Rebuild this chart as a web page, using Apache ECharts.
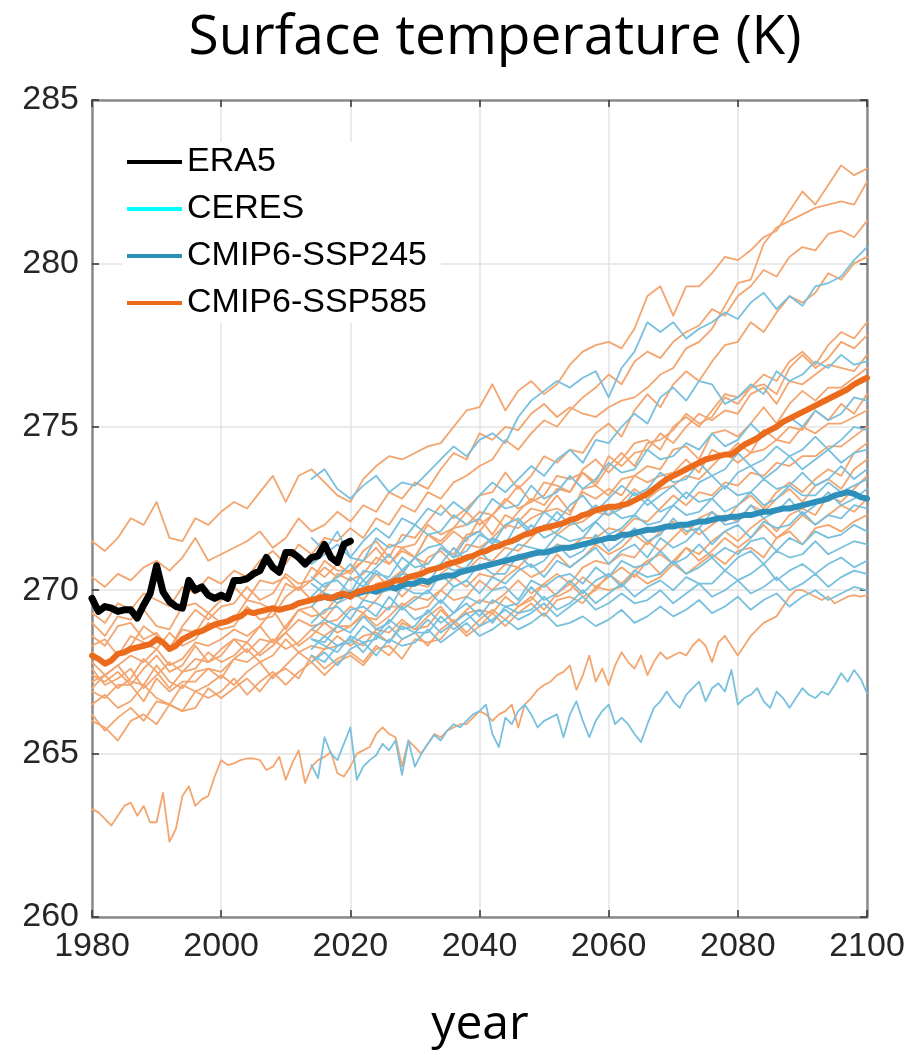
<!DOCTYPE html>
<html>
<head>
<meta charset="utf-8">
<title>Surface temperature (K)</title>
<script src="https://cdn.jsdelivr.net/npm/echarts@6/dist/echarts.min.js"></script>
<style>
  html, body { margin: 0; padding: 0; background: #fff; }
  #chart { width: 910px; height: 1055px; }
</style>
</head>
<body>
<div id="chart"></div>
<script>
// ---- axis ticks ----
const xTicks = [1980, 2000, 2020, 2040, 2060, 2080, 2100];
const yTicks = [260, 265, 270, 275, 280, 285];

// ---- reanalysis (annual, 1980-2020) ----
const era5 = [
  269.75,269.35,269.5,269.45,269.35,269.4,269.4,269.15,269.55,269.9,
  270.75,269.95,269.65,269.5,269.45,270.3,270.0,270.1,269.85,269.75,
  269.85,269.75,270.3,270.3,270.35,270.5,270.6,271.0,270.7,270.55,
  271.15,271.15,271.0,270.8,271.0,271.05,271.4,271.0,270.85,271.4,
  271.5
];
const ceres = [];

// ---- multi-model means ----
// SSP585 mean, annual 1980-2100
const ssp585Mean = [
  268.0,267.9,267.75,267.85,268.05,268.1,268.2,268.25,268.3,268.35,
  268.5,268.4,268.2,268.3,268.5,268.6,268.7,268.75,268.85,268.95,
  269.0,269.05,269.15,269.2,269.35,269.3,269.35,269.4,269.45,269.4,
  269.45,269.5,269.6,269.65,269.7,269.75,269.8,269.75,269.85,269.9,
  269.8,269.95,270.0,270.05,270.1,270.15,270.2,270.3,270.3,270.4,
  270.45,270.5,270.6,270.65,270.7,270.8,270.85,270.9,271.0,271.05,
  271.15,271.2,271.3,271.35,271.45,271.5,271.6,271.7,271.75,271.85,
  271.9,271.95,272.0,272.05,272.15,272.2,272.3,272.35,272.45,272.5,
  272.55,272.55,272.6,272.65,272.75,272.85,272.95,273.1,273.25,273.4,
  273.5,273.6,273.7,273.8,273.9,274.0,274.05,274.1,274.15,274.15,
  274.3,274.45,274.55,274.65,274.8,274.9,275.0,275.15,275.25,275.35,
  275.45,275.55,275.65,275.75,275.85,275.95,276.05,276.15,276.3,276.4,
  276.5
];
// SSP245 mean, annual 2015-2100
const ssp245Mean = [
  269.75,269.8,269.75,269.8,269.85,269.85,269.9,269.95,270.0,269.95,
  270.05,270.1,270.05,270.15,270.2,270.2,270.3,270.25,270.35,270.4,
  270.45,270.45,270.55,270.6,270.65,270.7,270.75,270.8,270.85,270.9,
  270.95,271.0,271.05,271.1,271.15,271.15,271.2,271.25,271.3,271.3,
  271.35,271.4,271.45,271.5,271.55,271.6,271.6,271.7,271.7,271.75,
  271.8,271.85,271.85,271.9,271.95,271.95,272.0,272.0,272.05,272.1,
  272.1,272.15,272.2,272.2,272.25,272.25,272.3,272.3,272.35,272.4,
  272.4,272.45,272.5,272.5,272.55,272.6,272.65,272.7,272.75,272.8,
  272.9,272.95,273.0,272.95,272.85,272.8
];

// ---- SSP585 ensemble members (every 2 years, 1980-2100) ----
const ssp585_m01 = [
  271.5,271.2,271.6,272.2,272.0,272.7,271.6,271.5,272.2,272.0,
  272.4,272.7,272.5,273.0,273.5,272.7,273.5,273.7,273.3,272.9,
  272.7,273.4,273.8,274.1,274.0,274.2,274.4,274.5,275.0,275.5,
  275.6,276.3,275.5,276.1,276.4,276.0,276.3,276.9,277.3,277.5,
  277.6,277.4,278.0,279.0,279.3,278.4,279.3,279.3,279.7,280.2,
  280.1,280.4,280.8,281.0,281.6,282.2,281.8,282.4,283.0,282.7,
  282.9
];
const ssp585_m02 = [
  270.4,270.1,270.5,270.3,270.7,270.9,270.6,271.0,271.6,270.9,
  271.1,271.3,271.5,271.8,271.3,271.6,272.2,271.8,272.0,272.4,
  272.1,272.6,272.4,273.0,272.8,273.3,273.1,273.7,274.2,274.0,
  274.8,274.6,275.0,274.9,275.4,275.7,275.3,275.6,275.4,275.3,
  275.6,275.8,275.9,276.2,276.6,276.8,277.4,277.6,278.0,278.7,
  279.4,279.5,280.6,281.1,281.3,281.5,281.7,281.8,281.9,281.8,
  282.5
];
const ssp585_m03 = [
  269.3,269.0,269.6,269.4,269.9,269.7,269.5,270.1,269.9,270.4,
  270.2,270.6,270.4,270.9,271.2,270.8,271.4,271.1,271.6,271.5,
  271.9,271.6,272.2,272.0,272.6,272.4,273.0,272.8,273.3,273.5,
  273.8,274.0,274.6,274.3,274.8,275.2,275.0,275.5,275.9,276.2,
  276.6,276.3,277.0,277.3,277.1,277.6,277.9,278.1,278.6,278.4,
  279.0,279.3,279.8,279.6,280.2,280.5,280.4,280.9,281.0,280.8,
  281.3
];
const ssp585_m04 = [
  268.6,268.3,268.9,269.0,268.5,268.7,268.2,268.9,269.4,269.1,
  269.5,269.6,270.1,269.7,269.9,270.5,270.2,270.3,270.9,270.6,
  270.6,271.2,271.5,271.0,271.7,271.6,272.1,272.6,272.2,272.5,
  272.9,273.0,273.6,273.1,273.5,274.1,273.9,274.3,274.2,274.8,
  275.1,274.7,275.5,276.0,275.6,276.3,276.7,276.4,277.0,277.5,
  277.6,278.2,277.9,278.5,279.0,278.8,279.1,279.7,279.5,280.0,
  280.2
];
const ssp585_m05 = [
  268.1,267.8,268.0,268.6,268.4,268.2,268.7,268.3,268.5,269.0,
  268.8,268.9,269.5,269.1,269.2,269.8,270.1,269.7,270.0,270.5,
  270.3,270.5,271.0,270.8,271.2,271.0,271.7,271.5,271.9,272.4,
  272.0,272.3,272.8,272.5,272.7,273.3,273.2,273.0,273.7,274.0,
  273.6,274.0,274.5,274.6,274.3,275.0,275.3,275.0,275.5,276.0,
  275.9,276.2,276.6,276.4,277.0,277.3,276.9,277.5,277.9,277.7,
  278.2
];
const ssp585_m06 = [
  267.4,267.2,267.5,267.1,267.6,268.0,267.5,267.7,268.3,267.8,
  268.2,268.5,268.4,268.9,268.4,268.9,269.4,269.2,269.3,269.8,
  269.9,270.0,270.5,270.1,270.6,271.0,270.8,271.3,271.1,271.7,
  271.8,272.3,271.9,272.4,272.8,272.6,273.1,273.0,273.6,273.2,
  273.8,274.2,273.8,274.5,274.6,274.9,275.4,275.1,275.3,275.9,
  275.7,276.2,276.3,276.0,276.8,277.2,276.8,277.1,277.6,277.4,
  277.8
];
const ssp585_m07 = [
  268.3,268.5,268.0,268.3,268.9,268.6,268.2,268.8,268.7,269.3,
  269.0,269.1,269.7,269.6,269.4,270.2,270.0,270.3,270.7,270.4,
  270.6,270.9,270.8,271.4,271.3,271.4,272.0,271.7,271.9,272.0,
  272.4,272.3,272.7,273.2,272.7,272.9,273.5,273.4,273.6,273.3,
  274.1,273.8,274.2,274.3,274.8,274.5,275.0,275.4,275.2,275.5,
  275.4,276.0,276.2,275.7,276.4,276.3,276.6,276.9,276.8,276.7,
  277.2
];
const ssp585_m08 = [
  267.8,267.4,267.7,268.0,267.8,268.2,267.7,267.9,268.4,268.3,
  268.5,268.8,268.6,268.9,269.4,268.8,269.4,269.5,269.1,269.6,
  270.0,269.7,270.2,270.3,270.6,270.3,271.0,271.2,270.8,271.4,
  271.3,271.6,272.0,271.9,272.2,272.4,272.5,272.3,273.1,273.2,
  272.9,273.4,273.5,273.8,273.7,274.3,274.4,274.0,274.8,274.9,
  274.7,275.1,275.6,275.1,275.7,276.1,275.8,276.2,276.2,276.5,
  276.8
];
const ssp585_m09 = [
  269.0,268.6,269.2,269.1,269.4,268.9,268.8,269.5,269.6,269.3,
  269.7,270.1,269.7,270.3,270.2,270.4,270.0,270.7,270.4,270.8,
  270.5,270.9,271.3,270.8,271.3,271.0,271.7,271.4,271.8,271.5,
  272.2,271.7,272.3,272.1,272.5,272.4,272.9,272.4,273.0,272.8,
  273.1,272.9,273.5,273.3,273.5,273.6,274.0,273.6,274.3,274.1,
  274.5,274.2,274.9,274.6,275.0,274.9,275.5,275.2,275.7,275.4,
  276.0
];
const ssp585_m10 = [
  267.2,267.4,267.0,267.3,267.9,267.5,267.0,267.5,267.9,267.8,
  268.0,268.5,268.1,268.5,268.4,268.7,269.1,268.9,269.0,269.1,
  269.5,269.3,269.7,270.2,269.8,270.2,270.1,270.5,270.8,270.6,
  271.0,270.9,271.3,271.2,271.6,272.0,271.7,272.0,272.1,272.4,
  272.3,272.7,273.1,272.8,273.1,273.2,273.5,273.4,273.8,274.2,
  273.9,274.2,274.3,274.6,274.5,275.0,274.8,275.1,275.1,275.3,
  275.5
];
const ssp585_m11 = [
  266.9,266.7,267.1,267.1,266.6,267.3,266.9,267.2,267.2,267.6,
  267.5,267.9,267.8,268.1,268.5,268.2,268.4,268.8,268.6,268.9,
  268.9,269.2,269.1,269.5,269.5,269.8,269.7,270.0,270.4,270.1,
  270.5,270.4,270.8,270.7,271.1,271.1,271.4,271.3,271.6,271.6,
  271.9,271.8,272.2,272.1,272.5,272.9,272.6,273.0,272.9,273.3,
  273.2,273.6,273.5,273.9,273.8,274.1,274.1,274.4,274.4,274.7,
  275.0
];
const ssp585_m12 = [
  267.6,267.1,267.3,267.6,267.0,267.4,267.8,267.5,267.6,268.1,
  267.8,268.0,268.4,268.0,268.3,268.7,268.3,268.6,269.0,268.7,
  268.9,269.3,268.9,269.2,269.6,269.4,269.5,270.0,269.7,269.8,
  270.3,270.0,270.4,270.7,270.4,270.6,271.1,270.7,271.0,271.4,
  271.1,271.3,271.7,271.4,271.8,272.1,271.7,272.2,272.4,272.1,
  272.6,272.9,272.5,273.0,273.3,273.0,273.4,273.7,273.5,274.2,
  274.5
];
const ssp585_m13 = [
  266.5,266.8,266.4,266.6,267.1,266.7,266.5,267.1,266.9,267.1,
  267.4,267.1,267.5,267.8,267.3,267.7,268.1,267.8,268.2,268.3,
  268.5,268.3,268.8,268.7,269.1,268.8,269.2,269.5,269.0,269.4,
  269.7,269.6,269.9,270.3,269.9,270.2,270.5,270.2,270.7,270.9,
  270.8,271.1,271.0,271.5,271.2,271.6,272.0,271.7,272.0,272.3,
  272.1,272.6,272.4,272.8,273.1,272.7,273.2,273.4,273.1,273.7,
  274.0
];
const ssp585_m14 = [
  267.0,267.4,267.7,267.2,267.1,267.7,267.2,267.0,267.5,267.6,
  267.3,267.9,268.2,267.8,268.0,268.5,268.1,268.3,268.2,268.6,
  268.3,268.6,268.7,268.4,269.0,268.8,268.9,269.4,269.0,269.3,
  269.4,269.3,269.8,269.5,269.7,270.2,269.8,270.0,270.4,270.1,
  270.4,270.7,270.4,270.9,271.1,270.8,271.3,271.1,271.5,271.8,
  271.5,271.9,272.2,271.8,272.3,272.5,272.3,272.9,272.7,273.1,
  273.5
];
const ssp585_m15 = [
  266.2,265.7,266.1,266.4,266.0,266.6,266.5,266.3,266.9,266.7,
  266.9,267.3,266.8,267.2,267.5,267.1,267.5,267.8,267.4,267.8,
  268.0,267.7,268.2,268.3,267.9,268.5,268.4,268.5,269.0,268.6,
  268.9,269.3,268.9,269.3,269.6,269.2,269.7,269.8,269.6,270.1,
  270.0,270.1,270.5,270.2,270.4,270.8,270.5,270.8,271.1,270.8,
  271.2,271.3,271.0,271.6,271.8,271.4,271.9,272.0,271.8,272.1,
  272.3
];
const ssp585_m16 = [
  266.0,265.8,265.4,266.0,266.2,265.9,266.5,266.3,266.4,267.0,
  266.7,267.0,267.3,266.9,267.4,267.6,267.3,268.0,267.6,267.9,
  268.1,267.8,268.3,268.0,268.5,268.7,268.3,268.8,269.1,268.7,
  269.1,269.4,269.1,269.5,269.8,269.4,269.9,270.2,269.8,270.0,
  270.5,270.2,270.6,270.9,270.5,270.9,271.3,270.9,271.2,271.6,
  271.3,271.6,272.0,271.6,271.9,272.3,272.0,272.3,272.6,272.4,
  272.8
];
// coldest SSP585 member, annual 1980-2100
const ssp585_m17 = [
  263.3,263.2,263.0,262.8,263.1,263.4,263.5,263.1,263.4,262.9,
  262.9,263.8,262.3,262.7,263.7,264.0,263.4,263.6,263.7,264.3,
  264.8,264.65,264.7,264.8,264.85,264.85,264.8,264.5,264.6,264.9,
  264.2,264.7,265.1,264.1,264.6,264.8,264.9,265.05,264.4,264.3,
  264.6,265.0,265.1,265.2,265.6,265.8,265.6,265.5,264.6,265.4,
  265.2,265.0,265.3,265.6,265.5,265.7,265.8,265.9,265.9,266.1,
  266.3,266.2,266.0,266.2,266.3,266.5,265.8,266.5,266.7,266.95,
  267.1,267.2,267.4,267.5,267.7,266.95,267.4,268.0,267.2,267.6,
  267.1,267.7,268.1,267.8,267.6,268.0,267.4,267.8,268.1,267.9,
  268.0,268.1,268.0,268.3,268.5,268.3,267.8,268.4,268.6,268.3,
  268.0,268.3,268.6,268.8,269.0,269.1,269.2,269.5,269.8,270.0,
  270.0,269.9,269.8,269.7,269.8,269.6,269.7,269.8,269.85,269.8,
  269.85
];

// ---- SSP245 ensemble members (every 2 years, 2014-2100) ----
const ssp245_m01 = [
  273.4,273.7,273.1,272.8,273.2,273.5,273.0,273.3,273.2,273.6,
  274.0,274.4,274.1,274.6,274.8,274.5,275.3,275.8,276.1,276.4,
  276.2,276.5,276.7,275.9,276.8,277.3,278.2,277.9,278.2,277.7,
  278.0,278.2,278.5,278.3,278.8,279.1,278.6,279.0,278.7,279.3,
  279.4,279.6,280.1,280.5
];
const ssp245_m02 = [
  271.6,271.2,271.8,271.0,271.5,271.9,271.6,272.2,272.0,272.5,
  272.3,272.7,272.4,272.9,273.3,273.0,273.4,273.8,273.5,274.0,
  274.3,273.9,274.6,274.5,275.0,275.4,275.1,275.9,276.2,275.8,
  276.4,276.3,275.7,275.9,276.3,276.0,276.7,276.4,276.6,277.0,
  276.8,277.2,276.9,277.0
];
const ssp245_m03 = [
  270.8,271.1,271.4,271.0,270.9,271.6,271.3,271.5,272.0,271.7,
  271.8,272.3,272.0,272.2,272.8,272.5,272.6,273.2,272.8,273.0,
  273.5,273.1,273.4,273.9,273.6,273.7,274.3,274.0,274.1,274.5,
  274.3,274.8,274.4,274.6,275.1,274.7,275.0,275.3,275.0,275.5,
  275.2,275.4,275.9,275.8
];
const ssp245_m04 = [
  270.4,270.1,270.4,270.8,270.3,270.7,271.1,270.6,271.0,271.3,
  271.4,271.0,271.6,271.8,271.4,272.0,272.2,271.8,272.4,272.1,
  272.6,272.9,272.4,272.8,273.2,272.9,273.1,273.6,273.3,273.4,
  273.9,273.5,273.7,274.2,273.8,274.0,274.4,274.1,274.3,274.7,
  274.3,274.6,275.0,274.9
];
const ssp245_m05 = [
  269.8,270.2,270.3,269.9,270.6,270.5,270.4,271.0,270.7,270.8,
  271.3,271.0,271.2,271.7,271.5,271.4,272.1,271.7,271.9,272.4,
  272.0,272.3,272.6,272.3,272.5,273.0,272.6,272.9,273.2,272.8,
  273.3,273.5,273.1,273.6,273.8,273.4,273.7,274.1,273.7,274.0,
  274.3,273.9,274.2,274.3
];
const ssp245_m06 = [
  270.2,269.9,269.8,270.4,270.1,270.6,270.3,270.5,271.0,270.6,
  270.8,271.3,270.9,271.2,271.6,271.4,271.5,272.0,271.6,271.8,
  272.2,271.8,272.1,272.5,272.2,272.3,272.8,272.4,272.6,273.0,
  272.7,272.8,273.2,272.9,273.0,273.4,273.1,273.2,273.6,273.2,
  273.4,273.8,273.4,273.7
];
const ssp245_m07 = [
  269.5,269.9,269.6,269.8,270.3,269.9,270.0,270.5,270.4,270.2,
  270.8,270.6,270.7,271.2,270.8,271.0,271.4,271.3,271.2,271.7,
  271.5,271.6,272.1,271.7,271.9,272.3,272.0,272.1,272.6,272.3,
  272.4,272.8,272.4,272.6,273.0,272.6,272.8,273.2,272.9,272.9,
  273.3,273.0,273.2,273.4
];
const ssp245_m08 = [
  269.0,269.4,269.5,269.1,269.7,269.6,269.4,270.1,269.9,269.9,
  270.5,270.1,270.3,270.8,270.5,270.5,271.1,270.7,270.9,271.4,
  271.0,271.2,271.7,271.2,271.5,271.9,271.5,271.7,272.2,271.8,
  271.9,272.4,272.0,272.1,272.6,272.2,272.4,272.8,272.3,272.6,
  273.0,272.6,272.8,273.1
];
const ssp245_m09 = [
  268.8,269.1,268.9,269.4,269.5,269.2,269.8,269.4,269.7,270.0,
  269.6,270.1,270.3,269.9,270.4,270.2,270.6,270.8,270.4,270.9,
  270.7,271.0,271.3,270.8,271.2,271.4,271.0,271.6,271.3,271.5,
  271.9,271.4,271.8,272.0,271.6,272.1,271.9,272.0,272.4,272.0,
  272.3,272.2,272.6,272.5
];
const ssp245_m10 = [
  268.5,268.4,268.9,268.7,269.2,268.8,269.0,269.5,269.1,269.3,
  269.7,269.3,269.8,269.6,270.0,270.1,269.7,270.3,270.1,270.4,
  270.5,270.2,270.7,270.4,270.9,270.7,270.8,271.2,270.8,271.0,
  271.4,271.0,271.3,271.1,271.5,271.6,271.2,271.6,271.4,271.8,
  271.6,271.7,272.0,271.8
];
const ssp245_m11 = [
  268.2,268.6,268.3,268.4,268.9,268.6,269.1,268.8,268.9,269.4,
  269.0,269.3,269.6,269.2,269.7,269.5,269.6,270.1,269.7,269.9,
  270.3,269.9,270.3,270.5,270.1,270.6,270.4,270.5,270.9,270.5,
  270.7,271.0,270.6,271.0,271.2,270.8,271.2,271.0,271.1,271.5,
  271.1,271.3,271.5,271.4
];
const ssp245_m12 = [
  268.0,267.8,268.3,268.5,268.1,268.6,268.4,268.9,268.7,268.7,
  269.2,268.8,269.1,269.4,269.0,269.5,269.3,269.4,269.8,269.4,
  269.6,270.0,269.6,269.9,270.2,269.8,270.1,270.3,270.0,270.4,
  270.2,270.2,270.6,270.3,270.5,270.8,270.3,270.6,270.8,270.5,
  270.8,271.0,270.7,270.9
];
const ssp245_m13 = [
  268.5,268.3,268.1,268.6,268.4,268.5,268.9,268.5,268.7,269.1,
  268.7,269.0,269.3,268.9,269.1,269.4,269.1,269.3,269.6,269.2,
  269.5,269.8,269.4,269.6,269.9,269.6,269.7,270.0,269.6,269.9,
  270.2,269.8,270.0,270.3,269.9,270.1,270.4,270.0,270.2,270.5,
  270.1,270.4,270.6,270.5
];
const ssp245_m14 = [
  267.8,268.1,267.7,268.2,268.4,268.0,268.5,268.3,268.4,268.8,
  268.4,268.7,269.0,268.6,268.8,269.1,268.8,269.0,269.3,268.9,
  269.0,269.2,268.9,269.1,269.4,269.0,269.2,269.5,269.2,269.4,
  269.7,269.3,269.5,269.8,269.4,269.7,269.9,269.5,269.8,270.0,
  269.7,269.9,270.1,270.0
];
// coldest SSP245 member, annual 2014-2100
const ssp245_m15 = [
  264.65,264.25,265.5,265.0,264.8,265.3,265.8,264.2,264.6,264.8,
  264.95,265.3,265.1,265.4,264.35,265.4,264.6,265.0,265.3,265.57,
  265.4,265.7,265.9,265.8,266.0,266.2,266.3,266.5,265.6,265.2,
  266.1,265.9,266.3,266.5,266.2,265.8,266.0,266.1,266.2,265.5,
  266.2,266.6,266.0,265.5,266.0,266.3,266.5,265.9,266.1,265.9,
  265.6,265.35,265.9,266.4,266.6,266.9,266.6,266.4,266.8,267.0,
  267.2,266.6,267.0,267.15,266.9,267.56,266.5,266.7,266.8,267.0,
  266.6,266.4,266.9,266.7,266.4,266.7,267.0,266.8,266.7,266.9,
  266.8,267.1,267.46,267.2,267.56,267.3,266.85
];

// ---- colours ----
const C_ERA5 = '#000000';
const C_CERES = '#00FFFF';
const C_245 = '#2E8FBA';
const C_585 = '#EC6A1C';
const C_245_THIN = '#78C0DE';
const C_585_THIN = '#F3A56F';

// [start year, step, values]
const ssp585Members = [
  [1980, 2, ssp585_m01], [1980, 2, ssp585_m02], [1980, 2, ssp585_m03],
  [1980, 2, ssp585_m04], [1980, 2, ssp585_m05], [1980, 2, ssp585_m06],
  [1980, 2, ssp585_m07], [1980, 2, ssp585_m08], [1980, 2, ssp585_m09],
  [1980, 2, ssp585_m10], [1980, 2, ssp585_m11], [1980, 2, ssp585_m12],
  [1980, 2, ssp585_m13], [1980, 2, ssp585_m14], [1980, 2, ssp585_m15],
  [1980, 2, ssp585_m16], [1980, 1, ssp585_m17]
];
const ssp245Members = [
  [2014, 2, ssp245_m01], [2014, 2, ssp245_m02], [2014, 2, ssp245_m03],
  [2014, 2, ssp245_m04], [2014, 2, ssp245_m05], [2014, 2, ssp245_m06],
  [2014, 2, ssp245_m07], [2014, 2, ssp245_m08], [2014, 2, ssp245_m09],
  [2014, 2, ssp245_m10], [2014, 2, ssp245_m11], [2014, 2, ssp245_m12],
  [2014, 2, ssp245_m13], [2014, 2, ssp245_m14], [2014, 1, ssp245_m15]
];

function toPoints(start, step, values) {
  return values.map((v, i) => [start + i * step, v]);
}

function lineSeries(name, start, step, values, color, width, z) {
  return {
    type: 'line',
    name: name,
    data: toPoints(start, step, values),
    color: color,
    symbol: 'none',
    showSymbol: false,
    smooth: false,
    silent: true,
    z: z,
    lineStyle: { color: color, width: width, cap: 'round', join: 'round' },
    itemStyle: { color: color },
    emphasis: { disabled: true }
  };
}

const series = [];
ssp585Members.forEach((m, i) => {
  series.push(lineSeries('SSP585 run ' + (i + 1), m[0], m[1], m[2], C_585_THIN, 1.8, 2));
});
ssp245Members.forEach((m, i) => {
  series.push(lineSeries('SSP245 run ' + (i + 1), m[0], m[1], m[2], C_245_THIN, 1.8, 2));
});
series.push(lineSeries('CMIP6-SSP245', 2015, 1, ssp245Mean, C_245, 6, 3));
series.push(lineSeries('CMIP6-SSP585', 1980, 1, ssp585Mean, C_585, 6, 4));
series.push(lineSeries('CERES', 2001, 1, ceres, C_CERES, 5, 5));
series.push(lineSeries('ERA5', 1980, 1, era5, C_ERA5, 7, 6));

const axisLineStyle = { color: '#8A8A8A', width: 2.5 };
const tickStyle = { color: '#333333', width: 1.5 };
const labelFont = 'Liberation Sans';

const option = {
  animation: false,
  backgroundColor: '#ffffff',
  grid: { left: 92, right: 43, top: 100, bottom: 138, containLabel: false },
  legend: {
    data: ['ERA5', 'CERES', 'CMIP6-SSP245', 'CMIP6-SSP585'],
    orient: 'vertical',
    left: 122,
    top: 142,
    padding: [2, 14, 2, 5],
    itemGap: 11,
    itemWidth: 55,
    itemHeight: 4,
    icon: 'rect',
    backgroundColor: '#ffffff',
    selectedMode: false,
    textStyle: { fontSize: 34, color: '#000000', fontFamily: labelFont, lineHeight: 36 }
  },
  xAxis: [
    {
      type: 'value', position: 'bottom',
      min: xTicks[0], max: xTicks[xTicks.length - 1], interval: 20,
      axisLine: { show: true, lineStyle: axisLineStyle },
      axisTick: { show: true, inside: true, length: 7, lineStyle: tickStyle },
      axisLabel: { show: true, fontSize: 34, color: '#262626', fontFamily: labelFont, margin: 13,
                   formatter: v => String(v) },
      splitLine: { show: true, lineStyle: { color: '#E3E3E3', width: 1.5 } }
    },
    {
      type: 'value', position: 'top',
      min: xTicks[0], max: xTicks[xTicks.length - 1], interval: 20,
      axisLine: { show: true, lineStyle: axisLineStyle },
      axisTick: { show: true, inside: true, length: 7, lineStyle: tickStyle },
      axisLabel: { show: false },
      splitLine: { show: false }
    }
  ],
  yAxis: [
    {
      type: 'value', position: 'left',
      min: yTicks[0], max: yTicks[yTicks.length - 1], interval: 5,
      axisLine: { show: true, lineStyle: axisLineStyle },
      axisTick: { show: true, inside: true, length: 7, lineStyle: tickStyle },
      axisLabel: { show: true, fontSize: 34, color: '#262626', fontFamily: labelFont, margin: 13,
                   formatter: v => String(v) },
      splitLine: { show: true, lineStyle: { color: '#E3E3E3', width: 1.5 } }
    },
    {
      type: 'value', position: 'right',
      min: yTicks[0], max: yTicks[yTicks.length - 1], interval: 5,
      axisLine: { show: true, lineStyle: axisLineStyle },
      axisTick: { show: true, inside: true, length: 7, lineStyle: tickStyle },
      axisLabel: { show: false },
      splitLine: { show: false }
    }
  ],
  graphic: [
    {
      type: 'text', x: 495, y: 38, z: 10,
      style: {
        text: 'Surface temperature (K)', fill: '#000000',
        font: '55px "Open Sans"', align: 'center', verticalAlign: 'middle',
        textAlign: 'center', textVerticalAlign: 'middle'
      }
    },
    {
      type: 'text', x: 480, y: 1025, z: 10,
      style: {
        text: 'year', fill: '#000000',
        font: '48px "Open Sans"', align: 'center', verticalAlign: 'middle',
        textAlign: 'center', textVerticalAlign: 'middle'
      }
    }
  ],
  series: series
};

const chart = echarts.init(document.getElementById('chart'), null, { renderer: 'canvas' });
chart.setOption(option);
</script>
</body>
</html>
